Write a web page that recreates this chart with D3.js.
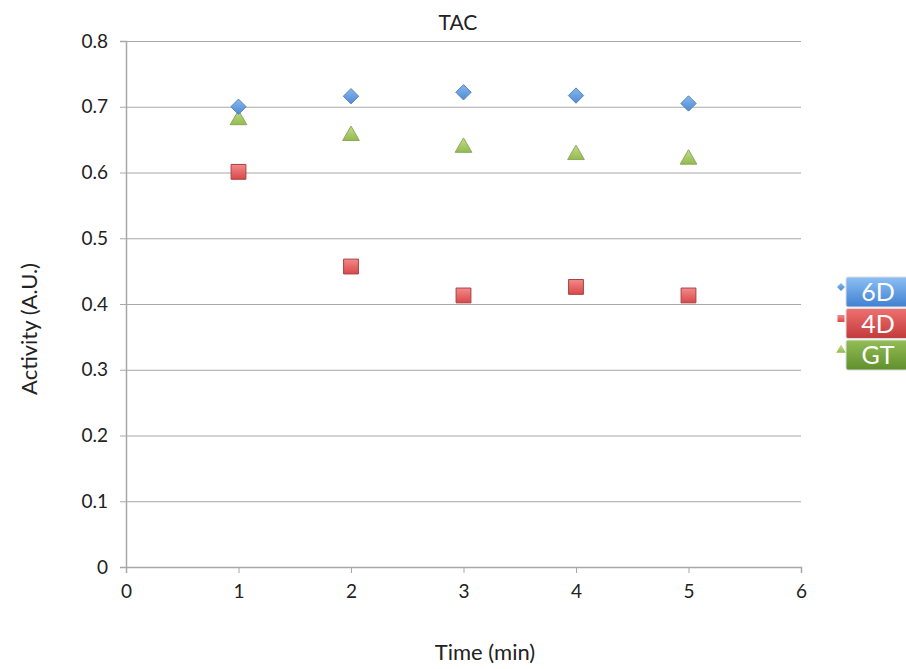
<!DOCTYPE html>
<html>
<head>
<meta charset="utf-8">
<script src="https://cdn.jsdelivr.net/npm/d3@7"></script>
<style>
  body { margin: 0; background: #fff; }
  svg text { font-family: "Lato", "Open Sans", "Liberation Sans", sans-serif; fill: #222; }
</style>
</head>
<body>
<div id="chart"></div>
<script>
const times = [1, 2, 3, 4, 5];
const values6D = [0.700, 0.716, 0.722, 0.717, 0.705];
const values4D = [0.601, 0.457, 0.413, 0.426, 0.413];
const valuesGT = [0.680, 0.656, 0.638, 0.627, 0.620];
const xTicks = [0, 1, 2, 3, 4, 5, 6];
const yTicks = [0, 0.1, 0.2, 0.3, 0.4, 0.5, 0.6, 0.7, 0.8];
const seriesNames = ["6D", "4D", "GT"];

const W = 906, H = 669;
const margin = { top: 41, right: 105, bottom: 102, left: 126 };
const width = W - margin.left - margin.right;
const height = H - margin.top - margin.bottom;

const svg = d3.select("#chart").append("svg")
    .attr("width", W)
    .attr("height", H);

const defs = svg.append("defs");
function grad(id, top, bottom) {
    const g = defs.append("linearGradient").attr("id", id)
        .attr("x1", 0).attr("y1", 0).attr("x2", 0).attr("y2", 1);
    g.append("stop").attr("offset", "0%").attr("stop-color", top);
    g.append("stop").attr("offset", "100%").attr("stop-color", bottom);
}
grad("g6D", "#8cc0f5", "#3f80d0");
grad("g4D", "#ef7070", "#c23a3a");
grad("gGT", "#94bd55", "#5f8f2c");
grad("m6D", "#86b8ee", "#4f8ad6");
grad("m4D", "#f38a8a", "#d94848");
grad("mGT", "#c2de8a", "#93ba4e");

const g = svg.append("g").attr("transform", `translate(${margin.left},${margin.top})`);

const x = d3.scaleLinear().domain([0, 6]).range([0, width]);
const y = d3.scaleLinear().domain([0, 0.8]).range([height, 0]);

// gridlines
g.append("g")
    .call(d3.axisLeft(y).tickValues(yTicks).tickSize(-width).tickFormat(""))
    .call(s => s.select(".domain").remove())
    .selectAll("line").attr("stroke", "#a8a8a8").attr("stroke-width", 1.2);

// y axis
const yAxis = g.append("g")
    .call(d3.axisLeft(y).tickValues(yTicks).tickSize(6).tickPadding(12)
        .tickFormat(d => d === 0 ? "0" : d3.format(".1f")(d)));
yAxis.select(".domain").attr("stroke", "#a8a8a8").attr("stroke-width", 1.5);
yAxis.selectAll("line").attr("stroke", "#a8a8a8");
yAxis.selectAll("text").style("font-size", "19px");

// x axis
const xAxis = g.append("g")
    .attr("transform", `translate(0,${height})`)
    .call(d3.axisBottom(x).tickValues(xTicks).tickSize(6).tickPadding(12)
        .tickFormat(d3.format("d")));
xAxis.select(".domain").attr("stroke", "#a8a8a8").attr("stroke-width", 1.5);
xAxis.selectAll("line").attr("stroke", "#a8a8a8");
xAxis.selectAll("text").style("font-size", "19px");

// titles
svg.append("text")
    .attr("x", 458).attr("y", 30)
    .attr("text-anchor", "middle")
    .style("font-size", "21px")
    .text("TAC");

svg.append("text")
    .attr("x", 485).attr("y", 660)
    .attr("text-anchor", "middle")
    .style("font-size", "22px")
    .text("Time (min)");

svg.append("text")
    .attr("transform", `translate(37,${margin.top + height / 2 + 25}) rotate(-90)`)
    .attr("text-anchor", "middle")
    .style("font-size", "22px")
    .text("Activity (A.U.)");

// markers
const diamond = d3.symbol().type(d3.symbolDiamond2).size(150);
const square = d3.symbol().type(d3.symbolSquare).size(220);
const triangle = d3.symbol().type(d3.symbolTriangle).size(120);

function plot(vals, sym, fill, stroke) {
    g.append("g").selectAll("path")
        .data(vals)
        .enter().append("path")
        .attr("d", sym)
        .attr("transform", (d, i) => `translate(${x(times[i])},${y(d)})`)
        .attr("fill", fill)
        .attr("stroke", stroke)
        .attr("stroke-width", 1);
}
plot(valuesGT, triangle, "url(#mGT)", "#8aa95a");
plot(values4D, square, "url(#m4D)", "#a94040");
plot(values6D, diamond, "url(#m6D)", "#5a84b8");

// legend
const legY = d3.scaleBand().domain(seriesNames).range([277, 370]).paddingInner(0.05);
const legFill = { "6D": "url(#g6D)", "4D": "url(#g4D)", "GT": "url(#gGT)" };
const legSym = {
    "6D": d3.symbol().type(d3.symbolDiamond2).size(40),
    "4D": d3.symbol().type(d3.symbolSquare).size(50),
    "GT": d3.symbol().type(d3.symbolTriangle).size(40)
};
const legMark = { "6D": "url(#m6D)", "4D": "url(#m4D)", "GT": "url(#mGT)" };
const leg = svg.append("g").selectAll("g")
    .data(seriesNames)
    .enter().append("g");
leg.append("rect")
    .attr("x", 846).attr("y", d => legY(d))
    .attr("width", 66).attr("height", legY.bandwidth())
    .attr("rx", 2)
    .attr("fill", d => legFill[d])
    .attr("stroke", "#dddddd");
leg.append("path")
    .attr("d", d => legSym[d]())
    .attr("transform", d => `translate(841,${legY(d) + 10})`)
    .attr("fill", d => legMark[d]);
leg.append("text")
    .attr("x", 878).attr("y", d => legY(d) + legY.bandwidth() / 2 + 9)
    .attr("text-anchor", "middle")
    .style("font-size", "25px")
    .style("fill", "#fff")
    .text(d => d);
</script>
</body>
</html>
